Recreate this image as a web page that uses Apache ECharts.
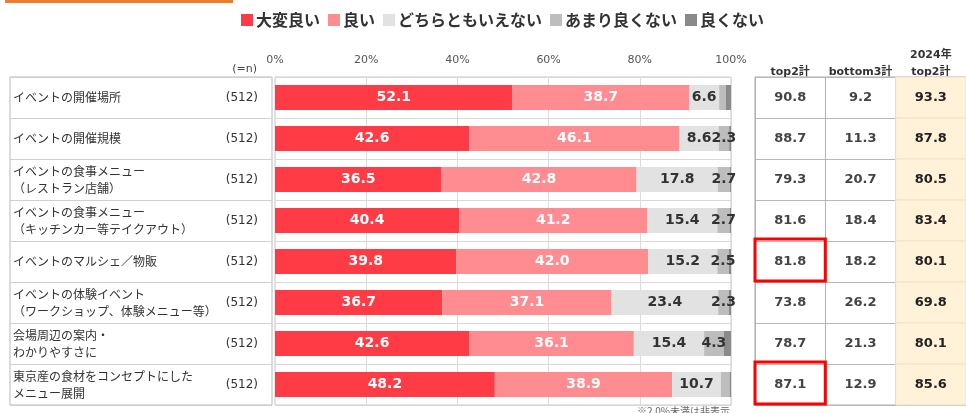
<!DOCTYPE html>
<html>
<head>
<meta charset="utf-8">
<script src="https://cdn.jsdelivr.net/npm/echarts@6/dist/echarts.min.js"></script>
<style>
html,body{margin:0;padding:0;background:#fff;}
#chart{width:966px;height:413px;}
</style>
</head>
<body>
<div id="chart"></div>
<script>
// ---- data ----
const categories = [
  'イベントの開催場所',
  'イベントの開催規模',
  'イベントの食事メニュー\n（レストラン店舗）',
  'イベントの食事メニュー\n（キッチンカー等テイクアウト）',
  'イベントのマルシェ／物販',
  'イベントの体験イベント\n（ワークショップ、体験メニュー等）',
  '会場周辺の案内・\nわかりやすさに',
  '東京産の食材をコンセプトにした\nメニュー展開'
];
const nLabels = ['(512)','(512)','(512)','(512)','(512)','(512)','(512)','(512)'];
const seriesNames = ['大変良い','良い','どちらともいえない','あまり良くない','良くない'];
const veryGood = [52.1, 42.6, 36.5, 40.4, 39.8, 36.7, 42.6, 48.2];
const good     = [38.7, 46.1, 42.8, 41.2, 42.0, 37.1, 36.1, 38.9];
const neutral  = [6.6, 8.6, 17.8, 15.4, 15.2, 23.4, 15.4, 10.7];
const notVery  = [1.5, 2.3, 2.7, 2.7, 2.5, 2.3, 4.3, 1.9];
const bad      = [1.1, 0.4, 0.2, 0.3, 0.5, 0.5, 1.6, 0.3];
const xTicks = [0, 20, 40, 60, 80, 100];
const tableHeaders = ['top2計', 'bottom3計', '2024年\ntop2計'];
const top2     = [90.8, 88.7, 79.3, 81.6, 81.8, 73.8, 78.7, 87.1];
const bottom3  = [9.2, 11.3, 20.7, 18.4, 18.2, 26.2, 21.3, 12.9];
const top2_2024 = [93.3, 87.8, 80.5, 83.4, 80.1, 69.8, 80.1, 85.6];
const highlightRows = [4, 7];
const noteText = '※2.0%未満は非表示';

// ---- styles ----
const colors = ['#FF3B45', '#FF8C90', '#E2E2E2', '#BDBDBD', '#8A8A8A'];
const labelColors = ['#fff', '#fff', '#333', '#333', '#333'];
const numFont = "'DejaVu Sans','Noto Sans CJK JP',sans-serif";
const jpFont = "'Noto Sans CJK JP',sans-serif";
const segData = [veryGood, good, neutral, notVery, bad];

const barSeries = seriesNames.map((name, k) => ({
  name: name,
  type: 'bar',
  stack: 'total',
  xAxisIndex: 0,
  yAxisIndex: 0,
  barWidth: 25,
  itemStyle: { color: colors[k] },
  label: {
    show: true,
    position: 'inside',
    color: labelColors[k],
    fontFamily: numFont,
    fontWeight: 'bold',
    fontSize: 14,
    formatter: p => (p.value >= 2 ? p.value.toFixed(1) : '')
  },
  data: segData[k]
}));

const tableData = [];
for (let i = 0; i < categories.length; i++) {
  tableData.push([0, i, top2[i], highlightRows.indexOf(i) >= 0 ? 1 : 0]);
  tableData.push([1, i, bottom3[i], 0]);
  tableData.push([2, i, top2_2024[i], 0]);
}

const chart = echarts.init(document.getElementById('chart'));
chart.setOption({
  animation: false,
  backgroundColor: '#fff',
  title: {
    text: noteText,
    right: 231,
    top: 401,
    textStyle: { fontSize: 10, color: '#666', fontWeight: 'normal', fontFamily: jpFont }
  },
  graphic: [
    { type: 'rect', left: 5, top: 0, shape: { width: 228, height: 3 }, style: { fill: '#ED7D31' } }
  ],
  legend: {
    data: seriesNames,
    left: 236,
    top: 7,
    itemWidth: 12,
    itemHeight: 12,
    itemGap: 8,
    icon: 'rect',
    textStyle: { fontSize: 16, fontWeight: 'bold', color: '#333', fontFamily: jpFont, padding: [0, 0, 0, -2] }
  },
  grid: [
    { left: 275, width: 456, top: 77, height: 328, show: true, borderColor: '#c8c8c8', borderWidth: 1 },
    { left: 10, width: 262, top: 77, height: 328, show: true, borderColor: '#b8b8b8', borderWidth: 1 },
    { left: 755, width: 219, top: 77, height: 328, show: true, borderColor: '#a8a8a8', borderWidth: 1 }
  ],
  xAxis: [
    {
      gridIndex: 0, type: 'value', position: 'top', min: 0, max: 100, interval: 20,
      axisLine: { show: false }, axisTick: { show: false },
      splitLine: { show: true, lineStyle: { color: '#dcdcdc' } },
      axisLabel: { formatter: v => v + '%', color: '#555', fontSize: 11, fontFamily: numFont, margin: 11,
        customValues: xTicks }
    },
    { gridIndex: 1, type: 'value', show: false, min: 0, max: 1 },
    {
      gridIndex: 2, type: 'category', position: 'top', data: tableHeaders,
      axisLine: { show: false }, axisTick: { show: false },
      splitLine: { show: true, lineStyle: { color: '#b0b0b0' } },
      axisLabel: { interval: 0, color: '#333', fontSize: 11, fontWeight: 'bold', fontFamily: numFont, margin: -4, lineHeight: 17 }
    }
  ],
  yAxis: [
    {
      gridIndex: 0, type: 'category', data: categories, inverse: true,
      axisLine: { show: false }, axisTick: { show: false }, axisLabel: { show: false },
      splitLine: { show: true, lineStyle: { color: '#d8d8d8' } }
    },
    {
      gridIndex: 1, type: 'category', data: categories, inverse: true, position: 'left',
      axisLine: { show: false }, axisTick: { show: false },
      splitLine: { show: true, lineStyle: { color: '#d0d0d0' } },
      axisLabel: { inside: true, margin: 3, align: 'left', color: '#333', fontSize: 12, lineHeight: 17, fontFamily: jpFont }
    },
    {
      gridIndex: 1, type: 'category', data: nLabels.map((v, i) => i + ':' + v), inverse: true, position: 'right',
      name: '(=n)', nameLocation: 'start', nameGap: 2,
      nameTextStyle: { color: '#444', fontSize: 11, fontFamily: numFont, align: 'right', padding: [0, 15, 0, 0] },
      axisLine: { show: false }, axisTick: { show: false }, splitLine: { show: false },
      axisLabel: { inside: true, margin: 14, align: 'right', color: '#333', fontSize: 12, fontFamily: numFont,
        formatter: v => v.split(':')[1] }
    },
    {
      gridIndex: 2, type: 'category', data: categories, inverse: true,
      axisLine: { show: false }, axisTick: { show: false }, axisLabel: { show: false },
      splitLine: { show: true, lineStyle: { color: '#b8b8b8' } }
    }
  ],
  series: barSeries.concat([
    {
      type: 'custom',
      xAxisIndex: 2,
      yAxisIndex: 3,
      encode: { x: 0, y: 1 },
      data: tableData,
      renderItem: function (params, api) {
        const col = api.value(0);
        const c = api.coord([col, api.value(1)]);
        const s = api.size([1, 1]);
        const x = c[0] - s[0] / 2, y = c[1] - s[1] / 2;
        const children = [];
        if (col === 2) {
          children.push({ type: 'rect', shape: { x: x, y: y, width: s[0], height: s[1] },
            style: { fill: '#FFF2D8', stroke: '#EDE3CC', lineWidth: 1 } });
        }
        children.push({ type: 'text', x: c[0], y: c[1],
          style: { text: api.value(2).toFixed(1), fill: col === 2 ? '#222' : '#444',
            font: 'bold 13px ' + numFont, align: 'center', verticalAlign: 'middle' } });
        if (api.value(3)) {
          children.push({ type: 'rect', z2: 10, shape: { x: x, y: y - 2, width: s[0], height: s[1] + 1 },
            style: { fill: 'none', stroke: '#FF0000', lineWidth: 3 } });
        }
        return { type: 'group', children: children };
      }
    }
  ])
});
</script>
</body>
</html>
